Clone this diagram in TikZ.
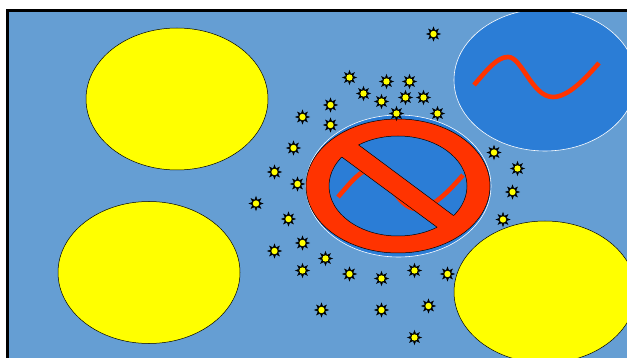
\documentclass[tikz,border=0pt]{standalone}
\usetikzlibrary{shapes.geometric}
\definecolor{bgblue}{HTML}{659ED3}
\definecolor{deepblue}{HTML}{2B7DD6}
\definecolor{nored}{HTML}{FF3300}
\definecolor{sunyellow}{RGB}{255,255,0}
\tikzset{
  x=1pt,y=-1pt,
  sun/.style={ellipse,draw=black,line width=0.5pt,fill=sunyellow,minimum width=182pt,minimum height=142pt,inner sep=0pt},
  wave/.style={draw=nored,line width=4.6pt,line cap=butt},
  edge/.style={draw=black,line width=0.5pt},
  sparkray/.style={star,star points=8,star point ratio=2.0,fill=black,draw=black,line width=0.4pt,minimum size=14pt,inner sep=0pt},
  sparkcore/.style={circle,fill=sunyellow,draw=none,minimum size=6.4pt,inner sep=0pt}
}
\newcommand{\wavepath}{(474,85) .. controls (487,70) and (497,57) .. (508,57) .. controls (522,57) and (532,97) .. (553,97) .. controls (568,97) and (585,79) .. (599,63)}
\begin{document}
\begin{tikzpicture}
\useasboundingbox (0,0) rectangle (627,358);
\fill[white] (0,0) rectangle (627,358);
\begin{scope}
\clip (7.5,10.5) rectangle (627,358);
\fill[bgblue] (7.5,10.5) rectangle (627,358);
\node[sun] (s1) at (177,99) {};
\node[sun] (s2) at (149,272.5) {};
\node[sun] (s3) at (545,292) {};
% upper right circle
\draw[white,fill=deepblue,line width=0.6pt] (545,80) ellipse [x radius=91,y radius=71];
\draw[wave] \wavepath;
% crossed circle
\draw[white,fill=deepblue,line width=0.6pt] (398.5,186) ellipse [x radius=92.5,y radius=71];
\filldraw[fill=nored,edge] (398,186) ellipse [x radius=92,y radius=67];
\filldraw[fill=deepblue,edge] (398,186) ellipse [x radius=69,y radius=50];
\begin{scope}
\clip (398,186) ellipse [x radius=69,y radius=50];
\begin{scope}[shift={(-136,112)}]
\draw[wave] \wavepath;
\end{scope}
\end{scope}
\fill[nored] (335.5,152.4) -- (352,140) -- (459.5,220) -- (443.5,232) -- cycle;
\begin{scope}
\clip (398,186) ellipse [x radius=69,y radius=50];
\draw[edge] (335.5,152.4) -- (443.5,232);
\draw[edge] (352,140) -- (459.5,220);
\end{scope}
\foreach \px/\py in {433.5/34,349.5/77.5,386.5/81.5,409.5/81.5,363.5/93.5,381.5/101.5,405.5/97.5,423.5/97.5,330.5/105,302.5/117,330.5/125,396.5/113.5,437.5/113.5,293.5/148,494/152.5,517.5/168.5,274.5/172,297.5/184,512.5/192,256/203.5,288.5/219,503/219.5,302.5/243,274.5/251,325.5/258.5,302.5/270.5,349.5/274,381.5/278.5,414.5/270.5,447.5/274,321.5/310,381.5/310,428.5/306,414.5/337.5}{
  \node[sparkray] at (\px,\py) {};
  \node[sparkcore] at (\px,\py) {};
}
\end{scope}
\draw[black,line width=3pt] (7.5,358) -- (7.5,10.5) -- (627,10.5);
\end{tikzpicture}
\end{document}
